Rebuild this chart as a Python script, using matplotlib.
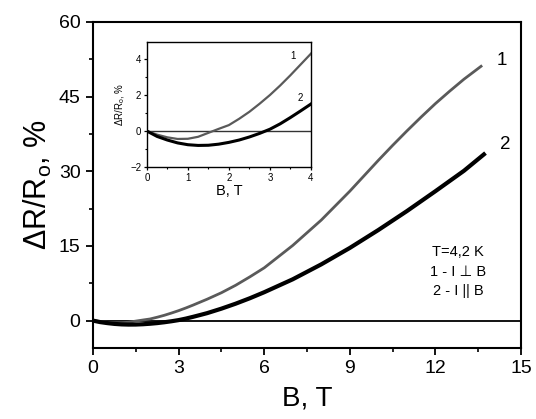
import numpy as np
from matplotlib import pyplot as plt
from matplotlib.ticker import MultipleLocator

# curve 1: I perpendicular to B
b1 = [0, 0.25, 0.5, 0.75, 1, 1.25, 1.5, 1.75, 2, 2.25, 2.5, 2.75, 3, 3.25, 3.5, 3.75, 4,
      4.5, 5, 5.5, 6, 7, 8, 9, 9.5, 10, 10.5, 11, 11.5, 12, 12.5, 13, 13.6]
r1 = [0, -0.2, -0.35, -0.44, -0.43, -0.32, -0.1, 0.12, 0.33, 0.68, 1.07, 1.52, 2.0, 2.53, 3.1, 3.7, 4.3,
      5.6, 7.1, 8.8, 10.6, 15.1, 20.2, 26.0, 29.1, 32.2, 35.2, 38.1, 40.9, 43.6, 46.1, 48.5, 51.1]
# curve 2: I parallel to B
b2 = [0, 0.25, 0.5, 0.75, 1, 1.25, 1.5, 1.75, 2, 2.25, 2.5, 2.75, 3, 3.25, 3.5, 3.75, 4,
      4.5, 5, 5.5, 6, 7, 8, 9, 10, 11, 12, 13, 13.7]
r2 = [0, -0.3, -0.5, -0.66, -0.76, -0.8, -0.79, -0.73, -0.63, -0.5, -0.33, -0.13, 0.1, 0.4, 0.75, 1.12, 1.5,
      2.4, 3.4, 4.5, 5.7, 8.3, 11.3, 14.6, 18.2, 22.0, 26.0, 30.1, 33.4]

xticks = [0, 3, 6, 9, 12, 15]
yticks = [0, 15, 30, 45, 60]
inset_xticks = [0, 1, 2, 3, 4]
inset_yticks = [-2, 0, 2, 4]

plt.rcParams['font.family'] = ['Liberation Sans', 'DejaVu Sans']

fig = plt.figure(figsize=(5.36, 4.19), dpi=100)
ax = fig.add_axes([0.1735, 0.1695, 0.7985, 0.778])

ax.axhline(0, color="black", lw=1.3, zorder=1)
ax.plot(b1, r1, color="#5a5a5a", lw=2.0)
ax.plot(b2, r2, color="black", lw=3.0)

ax.set_xlim(0, 15)
ax.set_ylim(-5.5, 60)
ax.set_xticks(xticks)
ax.set_yticks(yticks)
ax.xaxis.set_minor_locator(MultipleLocator(1.5))
ax.yaxis.set_minor_locator(MultipleLocator(7.5))
ax.tick_params(which="major", direction="out", length=5, width=1.3, labelsize=14, pad=4)
ax.tick_params(which="minor", direction="out", length=3, width=1.2)
for s in ax.spines.values():
    s.set_linewidth(1.5)

ax.set_xlabel("B, T", fontsize=20, labelpad=6)
ax.set_ylabel("ΔR/R$_\\mathregular{o}$, %", fontsize=22, labelpad=3)

ax.text(14.15, 52.3, "1", fontsize=13.5, ha="left", va="center")
ax.text(14.25, 35.3, "2", fontsize=13.5, ha="left", va="center")
ax.text(12.8, 9.8, "T=4,2 K\n1 - I ⊥ B\n2 - I || B", fontsize=10.5,
        ha="center", va="center", linespacing=1.5)

# inset
ins = fig.add_axes([0.274, 0.6014, 0.306, 0.2983])
ins.axhline(0, color="#333333", lw=1.0, zorder=1)
ins.plot(b1, r1, color="#5a5a5a", lw=1.6)
ins.plot(b2, r2, color="black", lw=2.2)
ins.set_xlim(0, 4)
ins.set_ylim(-2, 4.95)
ins.set_xticks(inset_xticks)
ins.set_yticks(inset_yticks)
ins.xaxis.set_minor_locator(MultipleLocator(0.5))
ins.yaxis.set_minor_locator(MultipleLocator(1))
ins.tick_params(which="major", direction="out", length=2.5, width=0.9, labelsize=7, pad=1.5)
ins.tick_params(which="minor", direction="out", length=1.5, width=0.8)
for s in ins.spines.values():
    s.set_linewidth(1.0)
ins.set_xlabel("B, T", fontsize=10.5, labelpad=1)
ins.set_ylabel("ΔR/R$_\\mathregular{o}$, %", fontsize=7, labelpad=2)
ins.text(3.56, 4.2, "1", fontsize=7, ha="center", va="center")
ins.text(3.73, 1.85, "2", fontsize=7, ha="center", va="center")

fig.savefig("out.png", dpi=100)
